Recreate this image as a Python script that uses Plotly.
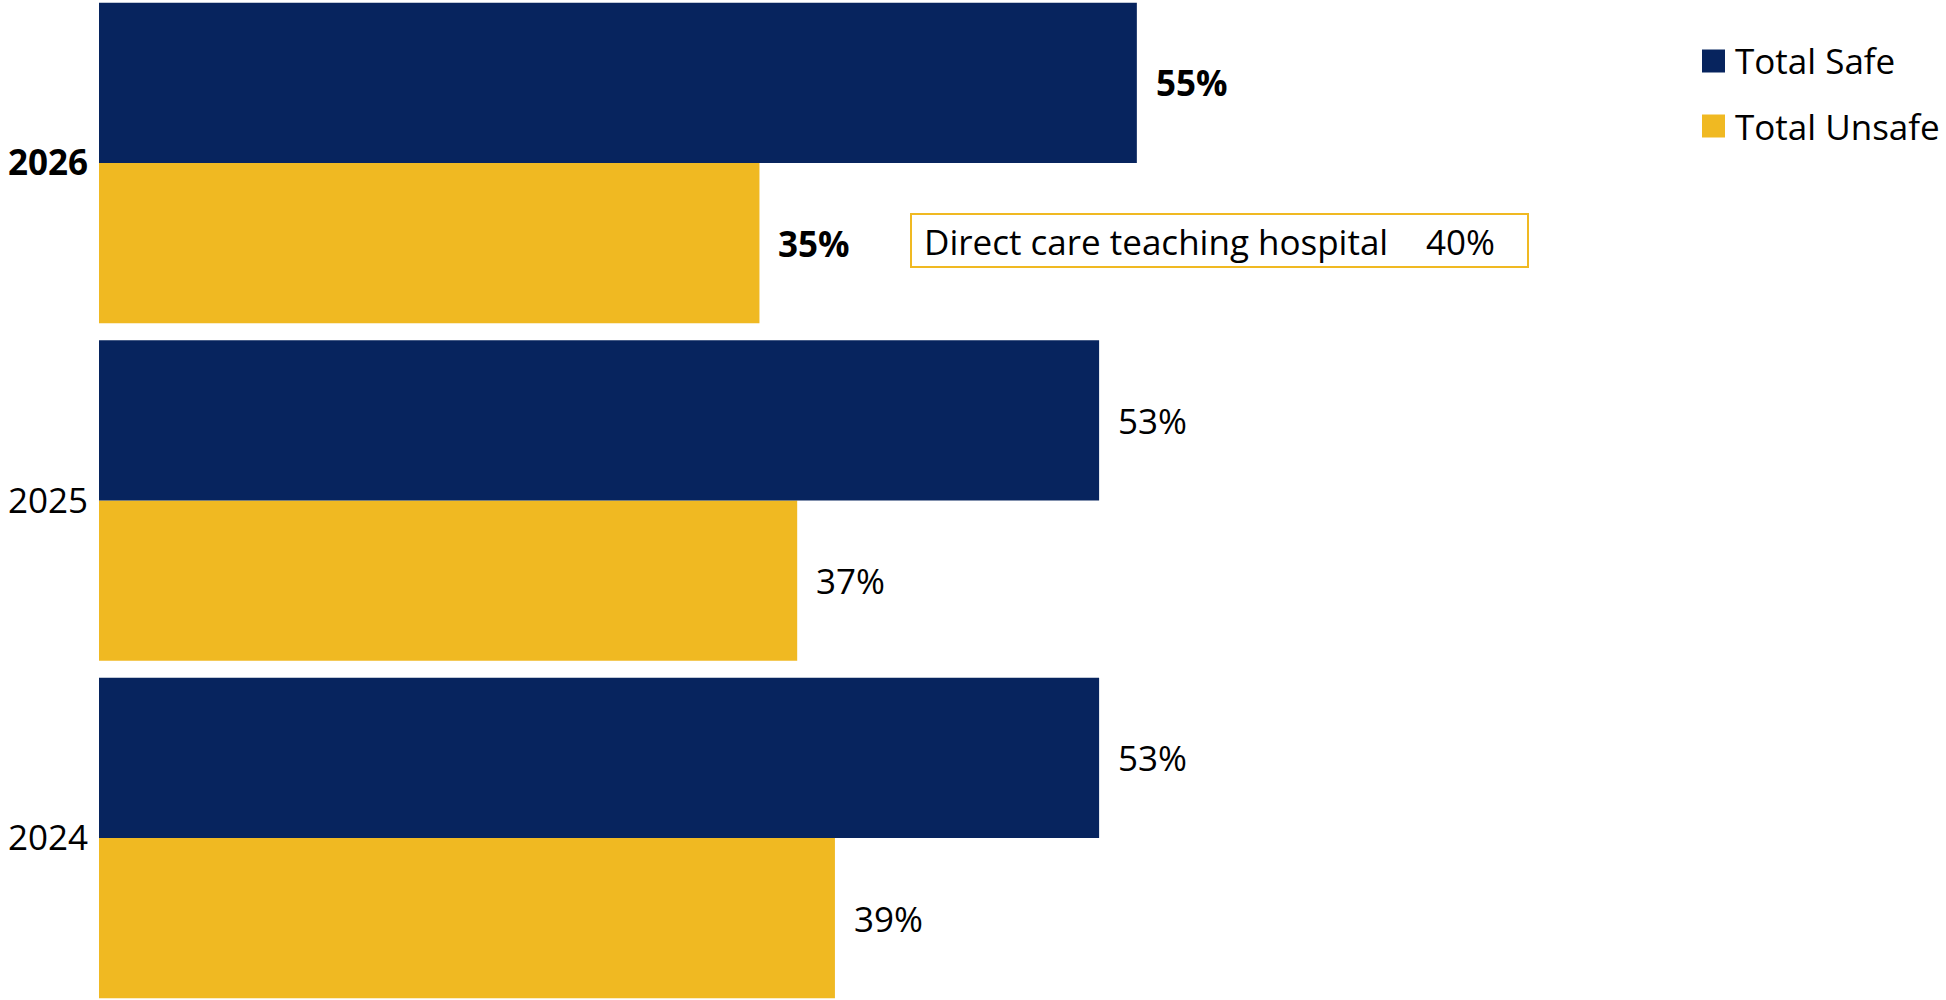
import plotly.graph_objects as go

# ---- data -------------------------------------------------------------
years = ["2024", "2025", "2026"]
safe_pct = [53, 53, 55]
unsafe_pct = [39, 37, 35]
series_names = ["Total Safe", "Total Unsafe"]
highlight_year = "2026"
benchmark_label = "Direct care teaching hospital"
benchmark_pct = 40

# ---- style ------------------------------------------------------------
NAVY = "#07245E"
GOLD = "#F0B922"
FONT = "Open Sans"
FS = 35
BARGAP = 0.05

W, H = 1946, 1000
ML = 99                      # left margin (room for the year labels)
PLOT_W = W - ML
PX_PER_PCT = 18.87           # horizontal scale of the value axis


def px_to_paper_x(px):
    return (px - ML) / PLOT_W


def px_to_paper_y(py):
    return 1 - py / H


def pct_label(v, bold):
    return f"<b>{v}%</b>" if bold else f"{v}%"


fig = go.Figure()

# first trace sits lower inside each group on a horizontal bar chart
fig.add_trace(go.Bar(
    y=years, x=unsafe_pct, orientation="h", name=series_names[1],
    marker=dict(color=GOLD, line=dict(width=0)), showlegend=False,
))
fig.add_trace(go.Bar(
    y=years, x=safe_pct, orientation="h", name=series_names[0],
    marker=dict(color=NAVY, line=dict(width=0)), showlegend=False,
))

# value labels just beyond the end of each bar
half = (1 - BARGAP) / 4
annotations = []
for i, yr in enumerate(years):
    bold = yr == highlight_year
    for val, dy in ((safe_pct[i], +half), (unsafe_pct[i], -half)):
        annotations.append(dict(
            x=val, y=i + dy, xref="x", yref="y",
            text=pct_label(val, bold), showarrow=False,
            xanchor="left", yanchor="middle", xshift=17,
            font=dict(family=FONT, size=FS, color="black"),
        ))

# benchmark call-out
annotations.append(dict(
    x=px_to_paper_x(922), y=px_to_paper_y(241), xref="paper", yref="paper",
    text=benchmark_label, showarrow=False, xanchor="left", yanchor="middle",
    font=dict(family=FONT, size=FS, color="black"),
))
annotations.append(dict(
    x=px_to_paper_x(1424), y=px_to_paper_y(241), xref="paper", yref="paper",
    text=f"{benchmark_pct}%", showarrow=False, xanchor="left", yanchor="middle",
    font=dict(family=FONT, size=FS, color="black"),
))

shapes = [dict(
    type="rect", xref="paper", yref="paper",
    x0=px_to_paper_x(911), x1=px_to_paper_x(1528),
    y0=px_to_paper_y(267), y1=px_to_paper_y(214),
    line=dict(color=GOLD, width=2), fillcolor="rgba(0,0,0,0)",
)]

# legend: coloured squares with series names
legend_rows = [(series_names[0], NAVY, 61), (series_names[1], GOLD, 126)]
for name, color, cy in legend_rows:
    shapes.append(dict(
        type="rect", xref="paper", yref="paper",
        x0=px_to_paper_x(1702), x1=px_to_paper_x(1725),
        y0=px_to_paper_y(cy + 11.5), y1=px_to_paper_y(cy - 11.5),
        line=dict(width=0), fillcolor=color,
    ))
    annotations.append(dict(
        x=px_to_paper_x(1733), y=px_to_paper_y(cy), xref="paper", yref="paper",
        text=name, showarrow=False, xanchor="left", yanchor="middle",
        font=dict(family=FONT, size=FS, color="black"),
    ))

tick_text = [f"<b>{y}</b>" if y == highlight_year else y for y in years]

fig.update_layout(
    width=W, height=H,
    margin=dict(l=ML, r=0, t=0, b=0, pad=0),
    barmode="group", bargap=BARGAP, bargroupgap=0,
    plot_bgcolor="white", paper_bgcolor="white",
    font=dict(family=FONT, size=FS, color="black"),
    showlegend=False,
    annotations=annotations,
    shapes=shapes,
    xaxis=dict(visible=False, range=[0, PLOT_W / PX_PER_PCT], fixedrange=True),
    yaxis=dict(
        type="category", categoryorder="array", categoryarray=years,
        tickmode="array", tickvals=years, ticktext=tick_text,
        range=[-0.48, 2.483], showgrid=False, zeroline=False, showline=False,
        ticks="", ticklabelstandoff=10,
        tickfont=dict(family=FONT, size=FS, color="black"),
    ),
)

fig.write_html("out.html")
